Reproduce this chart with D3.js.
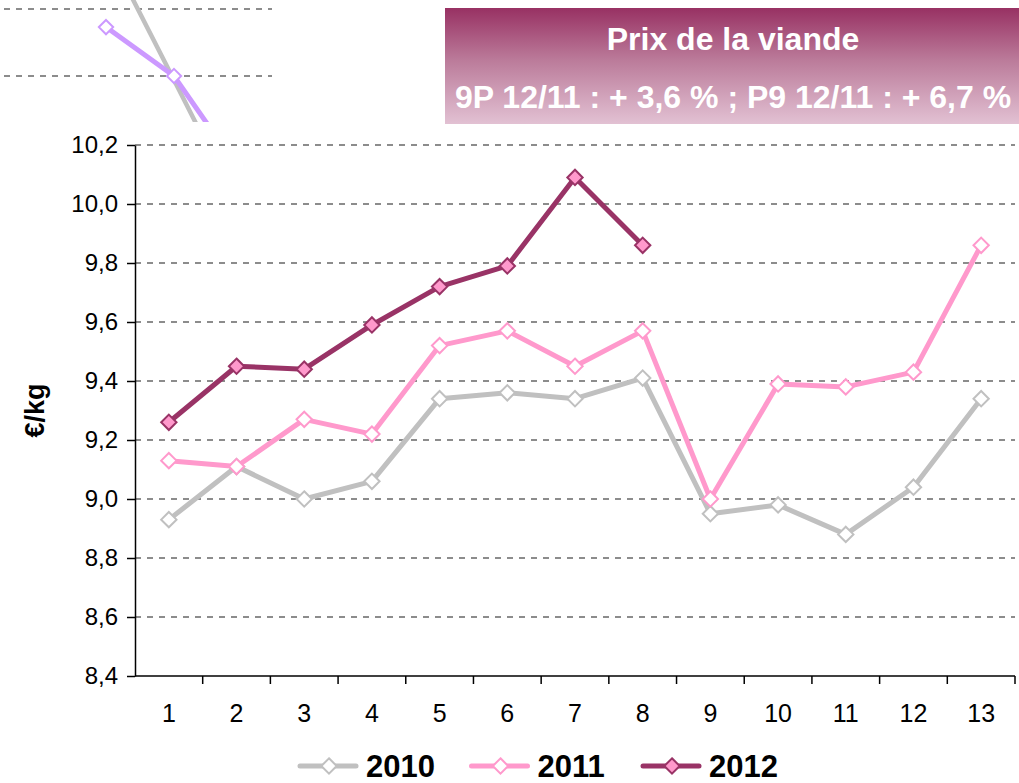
<!DOCTYPE html>
<html>
<head>
<meta charset="utf-8">
<script src="https://cdn.jsdelivr.net/npm/d3@7"></script>
<style>
  body { margin: 0; background: #fff; }
  svg { display: block; font-family: "Liberation Sans", Arial, sans-serif; }
</style>
</head>
<body>
<div id="chart"></div>
<script>
// periods (4-week periods)
const periods = [1, 2, 3, 4, 5, 6, 7, 8, 9, 10, 11, 12, 13];
const yTicks = [8.4, 8.6, 8.8, 9.0, 9.2, 9.4, 9.6, 9.8, 10.0, 10.2];

const prix2010 = [8.93, 9.11, 9.00, 9.06, 9.34, 9.36, 9.34, 9.41, 8.95, 8.98, 8.88, 9.04, 9.34];
const prix2011 = [9.13, 9.11, 9.27, 9.22, 9.52, 9.57, 9.45, 9.57, 9.00, 9.39, 9.38, 9.43, 9.86];
const prix2012 = [9.26, 9.45, 9.44, 9.59, 9.72, 9.79, 10.09, 9.86];

// cropped neighbour chart visible at the top left
const voisinPurple = [0.73, 0, -1.46];
const voisinGray = [1.93, -0.06, -2.06];

const seriesList = [
  { name: "2010", values: prix2010, color: "#c0c0c0", fill: "#ffffff" },
  { name: "2011", values: prix2011, color: "#ff99cc", fill: "#ffffff" },
  { name: "2012", values: prix2012, color: "#993366", fill: "#ff99cc" }
];

const W = 1019, H = 783;
const margin = { top: 145, right: 4, bottom: 107, left: 135 };

const svg = d3.select("#chart").append("svg")
  .attr("width", W).attr("height", H);

const defs = svg.append("defs");
const grad = defs.append("linearGradient")
  .attr("id", "titleGrad").attr("x1", 0).attr("y1", 0).attr("x2", 0).attr("y2", 1);
grad.append("stop").attr("offset", "0%").attr("stop-color", "#983163");
grad.append("stop").attr("offset", "45%").attr("stop-color", "#bb7b9a");
grad.append("stop").attr("offset", "100%").attr("stop-color", "#e2c1d3");

const diamond = d3.symbol().type(d3.symbolDiamond2).size(150);
const diamondSmall = d3.symbol().type(d3.symbolDiamond2).size(130);

// ---- neighbour chart fragment (clipped) ----
defs.append("clipPath").attr("id", "fragClip")
  .append("rect").attr("x", 0).attr("y", 0).attr("width", 272).attr("height", 122);

const fragX = d3.scaleLinear().domain([0, 1]).range([106, 174]);
const fragY = d3.scaleLinear().domain([0, 1]).range([76, 9]);

const frag = svg.append("g").attr("clip-path", "url(#fragClip)");
[0, 1].forEach(v => {
  frag.append("line")
    .attr("x1", 4).attr("x2", 272)
    .attr("y1", fragY(v)).attr("y2", fragY(v))
    .attr("stroke", "#8c8c8c").attr("stroke-width", 2)
    .attr("stroke-dasharray", "6,6");
});
const fragLine = d3.line().x((d, i) => fragX(i)).y(d => fragY(d));
frag.append("path").datum(voisinGray)
  .attr("d", fragLine).attr("fill", "none")
  .attr("stroke", "#c0c0c0").attr("stroke-width", 4.5);
frag.append("path").datum(voisinPurple)
  .attr("d", fragLine).attr("fill", "none")
  .attr("stroke", "#cc99ff").attr("stroke-width", 5);
frag.selectAll(".fd").data(voisinPurple).enter().append("path")
  .attr("transform", (d, i) => `translate(${fragX(i)},${fragY(d)})`)
  .attr("d", diamondSmall)
  .attr("fill", "#fff").attr("stroke", "#cc99ff").attr("stroke-width", 2);

// ---- title box ----
const tb = svg.append("g");
tb.append("rect")
  .attr("x", 445).attr("y", 8).attr("width", 574).attr("height", 116)
  .attr("fill", "url(#titleGrad)");
tb.append("text")
  .attr("x", 733).attr("y", 50)
  .attr("text-anchor", "middle")
  .attr("fill", "#fff").attr("font-weight", "bold").attr("font-size", 32)
  .text("Prix de la viande");
tb.append("text")
  .attr("x", 733).attr("y", 108)
  .attr("text-anchor", "middle")
  .attr("fill", "#fff").attr("font-weight", "bold").attr("font-size", 32)
  .text("9P 12/11 : + 3,6 % ; P9 12/11 : + 6,7 %");

// ---- main chart ----
const x = d3.scaleBand()
  .domain(periods)
  .range([margin.left, W - margin.right])
  .padding(0);

const y = d3.scaleLinear()
  .domain([8.4, 10.2])
  .range([H - margin.bottom, margin.top]);

const fmt = d => d3.format(".1f")(d).replace(".", ",");

// gridlines
svg.append("g").selectAll("line")
  .data(yTicks.slice(1))
  .enter().append("line")
    .attr("x1", margin.left).attr("x2", W - margin.right)
    .attr("y1", d => y(d)).attr("y2", d => y(d))
    .attr("stroke", "#8c8c8c").attr("stroke-width", 2)
    .attr("stroke-dasharray", "6,6");

// y axis
const yAxis = svg.append("g")
  .attr("transform", "translate(" + margin.left + ",0)")
  .call(d3.axisLeft(y).tickValues(yTicks).tickFormat(fmt).tickSize(8).tickSizeOuter(0).tickPadding(9));
yAxis.select(".domain").attr("stroke", "#000").attr("stroke-width", 1.5);
yAxis.selectAll(".tick line").attr("stroke", "#000").attr("stroke-width", 1.5);
yAxis.selectAll("text").attr("font-size", 24).attr("fill", "#000")
  .attr("font-family", "Liberation Sans, Arial, sans-serif");

// x axis: ticks between categories
const xAxis = svg.append("g")
  .attr("transform", "translate(0," + (H - margin.bottom) + ")");
xAxis.append("line")
  .attr("x1", margin.left).attr("x2", W - margin.right)
  .attr("y1", 0).attr("y2", 0)
  .attr("stroke", "#000").attr("stroke-width", 1.5);
xAxis.selectAll(".xt").data(periods).enter().append("line")
  .attr("x1", d => x(d) + x.bandwidth()).attr("x2", d => x(d) + x.bandwidth())
  .attr("y1", 0).attr("y2", 8)
  .attr("stroke", "#000").attr("stroke-width", 1.5);
xAxis.selectAll(".xl").data(periods).enter().append("text")
  .attr("x", d => x(d) + x.bandwidth() / 2)
  .attr("y", 46)
  .attr("text-anchor", "middle")
  .attr("font-size", 25).attr("fill", "#000")
  .text(d => d);

// y label
svg.append("text")
  .attr("transform", "translate(44," + (y(9.3)) + ") rotate(-90)")
  .attr("text-anchor", "middle")
  .attr("font-weight", "bold").attr("font-size", 27)
  .text("€/kg");

// series
const line = d3.line()
  .x((d, i) => x(periods[i]) + x.bandwidth() / 2)
  .y(d => y(d));

seriesList.forEach(s => {
  const g = svg.append("g");
  g.append("path").datum(s.values)
    .attr("d", line)
    .attr("fill", "none")
    .attr("stroke", s.color)
    .attr("stroke-width", 5)
    .attr("stroke-linejoin", "round");
  g.selectAll(".pt").data(s.values).enter().append("path")
    .attr("transform", (d, i) => "translate(" + (x(periods[i]) + x.bandwidth() / 2) + "," + y(d) + ")")
    .attr("d", diamond)
    .attr("fill", s.fill)
    .attr("stroke", s.color)
    .attr("stroke-width", 2);
});

// legend
const legend = svg.append("g").attr("transform", "translate(298,766)");
const legendStep = 171.5;
seriesList.forEach((s, i) => {
  const lg = legend.append("g").attr("transform", "translate(" + (i * legendStep) + ",0)");
  lg.append("line")
    .attr("x1", 2).attr("x2", 58).attr("y1", 0).attr("y2", 0)
    .attr("stroke", s.color).attr("stroke-width", 5).attr("stroke-linecap", "round");
  lg.append("path")
    .attr("transform", "translate(31,0)")
    .attr("d", diamond)
    .attr("fill", s.fill).attr("stroke", s.color).attr("stroke-width", 2);
  lg.append("text")
    .attr("x", 68).attr("y", 10.5)
    .attr("font-weight", "bold").attr("font-size", 31)
    .text(s.name);
});
</script>
</body>
</html>
